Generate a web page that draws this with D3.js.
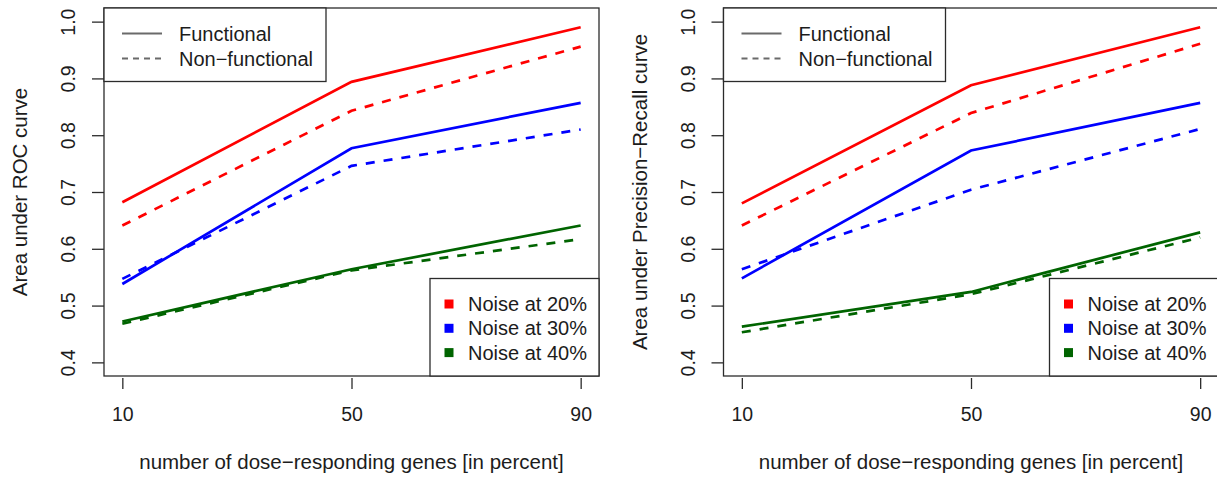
<!DOCTYPE html>
<html>
<head>
<meta charset="utf-8">
<script src="https://cdn.jsdelivr.net/npm/d3@7"></script>
<style>
  body { margin: 0; background: #fff; }
  svg { display: block; font-family: "Liberation Sans", Arial, Helvetica, sans-serif; }
</style>
</head>
<body>
<div id="content"></div>
<script>
// x values shared by both panels
var geneShare = [10, 50, 90];
var xTicks = [10, 50, 90];
var yTicks = [0.4, 0.5, 0.6, 0.7, 0.8, 0.9, 1.0];

var noiseLabels = ["Noise at 20%", "Noise at 30%", "Noise at 40%"];
var noiseColours = ["#ff0000", "#0000ff", "#006400"];
var typeLabels = ["Functional", "Non\u2212functional"];

// Area under ROC curve, one row per noise level
var rocFunctional    = [[0.682, 0.894, 0.990], [0.538, 0.777, 0.857], [0.472, 0.564, 0.641]];
var rocNonFunctional = [[0.641, 0.843, 0.956], [0.547, 0.746, 0.810], [0.468, 0.562, 0.617]];

// Area under Precision-Recall curve
var prFunctional    = [[0.680, 0.888, 0.990], [0.548, 0.773, 0.857], [0.463, 0.524, 0.629]];
var prNonFunctional = [[0.641, 0.839, 0.961], [0.564, 0.704, 0.811], [0.453, 0.520, 0.620]];

var panels = [
    {left: 104, ylab: "Area under ROC curve", func: rocFunctional, nonfunc: rocNonFunctional},
    {left: 723.5, ylab: "Area under Precision\u2212Recall curve", func: prFunctional, nonfunc: prNonFunctional}
];

var width = 1217, height = 477;
var plot_w = 495, top_y = 8, bottom_y = 376;
var tick_size = 19.5;
var label_size = 20.5;
var legend_size = 20;
var frame = "#2b2b2b";
var ink = "#1c1c1c";

var chart = d3.select("#content")
  .append("svg")
  .attr("width", width)
  .attr("height", height);

chart.append("rect")
  .attr("width", width)
  .attr("height", height)
  .attr("fill", "#fff");

// R style 4% padding around the data range
function padded(lo, hi) {
    var d = (hi - lo) * 0.04;
    return [lo - d, hi + d];
}

panels.forEach(function(p) {
    var x = d3.scaleLinear().domain(padded(10, 90)).range([p.left, p.left + plot_w]);
    var y = d3.scaleLinear().domain(padded(0.4, 1.0)).range([bottom_y, top_y]);

    var line = d3.line()
      .x(function(d, i) { return x(geneShare[i]); })
      .y(function(d) { return y(d); });

    var g = chart.append("g");

    // Dashed first, then solid on top
    p.nonfunc.forEach(function(s, i) {
        g.append("path")
          .attr("d", line(s))
          .attr("fill", "none")
          .attr("stroke", noiseColours[i])
          .attr("stroke-width", 2.7)
          .attr("stroke-dasharray", "9,9");
    });
    p.func.forEach(function(s, i) {
        g.append("path")
          .attr("d", line(s))
          .attr("fill", "none")
          .attr("stroke", noiseColours[i])
          .attr("stroke-width", 2.7);
    });

    // y axis, labels rotated like R's las=0
    var yAxis = g.append("g")
      .attr("transform", "translate(" + p.left + ",0)")
      .call(d3.axisLeft(y).tickValues(yTicks).tickFormat(d3.format(".1f")).tickSize(12));
    yAxis.select(".domain").remove();
    yAxis.selectAll("line").attr("stroke", frame).attr("stroke-width", 1.3);
    yAxis.selectAll("text")
      .attr("x", null)
      .attr("dy", null)
      .attr("text-anchor", "middle")
      .attr("transform", "translate(-29,0) rotate(-90)")
      .attr("font-size", tick_size)
      .attr("font-family", null)
      .attr("fill", ink);

    // x axis
    var xAxis = g.append("g")
      .attr("transform", "translate(0," + (bottom_y + 2) + ")")
      .call(d3.axisBottom(x).tickValues(xTicks).tickSize(11));
    xAxis.select(".domain").remove();
    xAxis.selectAll("line").attr("stroke", frame).attr("stroke-width", 1.3);
    xAxis.selectAll("text")
      .attr("y", 43)
      .attr("dy", null)
      .attr("font-size", tick_size)
      .attr("font-family", null)
      .attr("fill", ink);

    // plot box
    g.append("rect")
      .attr("x", p.left)
      .attr("y", top_y)
      .attr("width", plot_w)
      .attr("height", bottom_y - top_y)
      .attr("fill", "none")
      .attr("stroke", frame)
      .attr("stroke-width", 1.3);

    // axis titles
    g.append("text")
      .attr("transform", "translate(" + (p.left - 77) + "," + ((top_y + bottom_y) / 2) + ") rotate(-90)")
      .attr("text-anchor", "middle")
      .attr("font-size", label_size)
      .attr("fill", ink)
      .text(p.ylab);

    g.append("text")
      .attr("x", p.left + plot_w / 2)
      .attr("y", 469)
      .attr("text-anchor", "middle")
      .attr("font-size", label_size)
      .attr("fill", ink)
      .text("number of dose\u2212responding genes [in percent]");

    // line type legend (top left)
    var lg = g.append("g").attr("transform", "translate(" + p.left + "," + top_y + ")");
    lg.append("rect")
      .attr("width", 222)
      .attr("height", 73.5)
      .attr("fill", "#fff")
      .attr("stroke", frame)
      .attr("stroke-width", 1.3);
    typeLabels.forEach(function(t, i) {
        var ly = 25.5 + i * 25;
        lg.append("line")
          .attr("x1", 18).attr("x2", 58)
          .attr("y1", ly).attr("y2", ly)
          .attr("stroke", "#6a6a6a")
          .attr("stroke-width", 2)
          .attr("stroke-dasharray", i == 1 ? "6,5" : null);
        lg.append("text")
          .attr("x", 75)
          .attr("y", ly + 7)
          .attr("font-size", legend_size)
          .attr("fill", ink)
          .text(t);
    });

    // noise legend (bottom right)
    var ng = g.append("g").attr("transform", "translate(" + (p.left + plot_w - 169) + ",278.5)");
    ng.append("rect")
      .attr("width", 169)
      .attr("height", bottom_y - 278.5)
      .attr("fill", "#fff")
      .attr("stroke", frame)
      .attr("stroke-width", 1.3);
    noiseLabels.forEach(function(t, i) {
        var ly = 25.5 + i * 24.3;
        ng.append("rect")
          .attr("x", 14.5).attr("y", ly - 4.5)
          .attr("width", 9).attr("height", 9)
          .attr("fill", noiseColours[i]);
        ng.append("text")
          .attr("x", 38)
          .attr("y", ly + 7)
          .attr("font-size", legend_size)
          .attr("fill", ink)
          .text(t);
    });
});
</script>
</body>
</html>
